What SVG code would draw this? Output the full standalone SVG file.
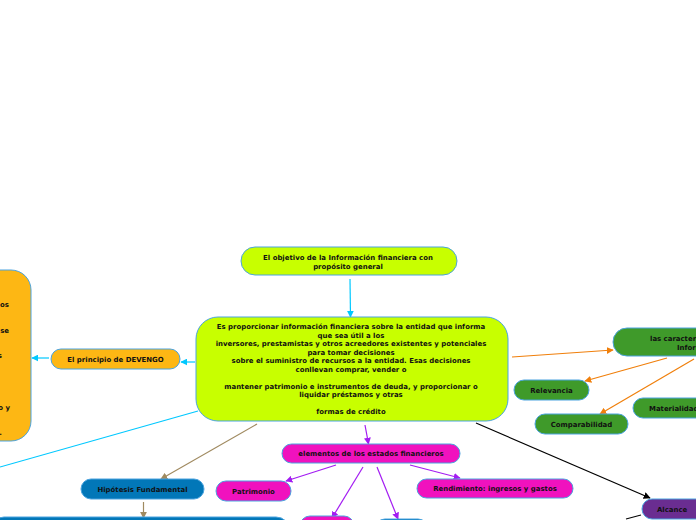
<svg xmlns="http://www.w3.org/2000/svg" width="696" height="520" viewBox="0 0 696 520">
<defs>
<style>
.n{stroke:#4aa3df;stroke-width:1}
.t{font-family:"DejaVu Sans",Verdana,sans-serif;font-weight:bold;font-size:6.95px;fill:#111;text-anchor:middle}
.ts{text-anchor:start}
.te{text-anchor:end}
.lime{fill:#c8ff00}
.org{fill:#fdb714}
.grn{fill:#3f9a2a}
.pnk{fill:#f012be}
.blu{fill:#0277b8}
.pur{fill:#6a2d91}
.c{fill:none;stroke-width:1.2}
</style>
<marker id="aCy" viewBox="0 0 10 10" refX="9" refY="5" markerWidth="7" markerHeight="7" orient="auto" markerUnits="userSpaceOnUse"><path d="M0,0L10,5L0,10z" fill="#00c8ff"/></marker>
<marker id="aOr" viewBox="0 0 10 10" refX="9" refY="5" markerWidth="7" markerHeight="7" orient="auto" markerUnits="userSpaceOnUse"><path d="M0,0L10,5L0,10z" fill="#f07f0b"/></marker>
<marker id="aBr" viewBox="0 0 10 10" refX="9" refY="5" markerWidth="7" markerHeight="7" orient="auto" markerUnits="userSpaceOnUse"><path d="M0,0L10,5L0,10z" fill="#a08a60"/></marker>
<marker id="aPu" viewBox="0 0 10 10" refX="9" refY="5" markerWidth="7" markerHeight="7" orient="auto" markerUnits="userSpaceOnUse"><path d="M0,0L10,5L0,10z" fill="#a31cf2"/></marker>
<marker id="aBk" viewBox="0 0 10 10" refX="9" refY="5" markerWidth="7" markerHeight="7" orient="auto" markerUnits="userSpaceOnUse"><path d="M0,0L10,5L0,10z" fill="#000"/></marker>
</defs>
<rect width="696" height="520" fill="#fff"/>
<g id="connectors">
<line class="c" x1="350" y1="279" x2="350.5" y2="317" stroke="#00c8ff" marker-end="url(#aCy)"/>
<line class="c" x1="195" y1="362" x2="181" y2="362" stroke="#00c8ff" marker-end="url(#aCy)"/>
<line class="c" x1="49" y1="358" x2="32" y2="358" stroke="#00c8ff" marker-end="url(#aCy)"/>
<line class="c" x1="198" y1="411" x2="0" y2="467" stroke="#00c8ff"/>
<line class="c" x1="512" y1="357" x2="613" y2="350" stroke="#f07f0b" marker-end="url(#aOr)"/>
<line class="c" x1="667" y1="358" x2="585" y2="381" stroke="#f07f0b" marker-end="url(#aOr)"/>
<line class="c" x1="694" y1="359" x2="600" y2="414" stroke="#f07f0b" marker-end="url(#aOr)"/>
<line class="c" x1="257" y1="424" x2="161" y2="479" stroke="#a08a60" marker-end="url(#aBr)"/>
<line class="c" x1="143.5" y1="502" x2="143.5" y2="518" stroke="#a08a60" marker-end="url(#aBr)"/>
<line class="c" x1="365" y1="425" x2="368.5" y2="444" stroke="#a31cf2" marker-end="url(#aPu)"/>
<line class="c" x1="336" y1="465" x2="286" y2="481" stroke="#a31cf2" marker-end="url(#aPu)"/>
<line class="c" x1="410" y1="465" x2="460" y2="478" stroke="#a31cf2" marker-end="url(#aPu)"/>
<line class="c" x1="363" y1="467" x2="332" y2="518" stroke="#a31cf2" marker-end="url(#aPu)"/>
<line class="c" x1="377" y1="467" x2="398" y2="519" stroke="#a31cf2" marker-end="url(#aPu)"/>
<line class="c" x1="476" y1="423" x2="650" y2="498" stroke="#000" marker-end="url(#aBk)"/>
<line class="c" x1="626" y1="519" x2="641" y2="515" stroke="#000"/>
</g>
<g id="objetivo">
<rect class="n lime" x="241" y="247" width="216" height="28" rx="14"/>
<text class="t" x="348" y="260">El objetivo de la Información financiera con</text>
<text class="t" x="348" y="268.5">propósito general</text>
</g>
<g id="principal">
<rect class="n lime" x="196" y="317" width="312" height="104" rx="22"/>
<text class="t" x="351" y="329">Es proporcionar información financiera sobre la entidad que informa</text>
<text class="t" x="351" y="337.5">que sea útil a los</text>
<text class="t" x="351" y="346">inversores, prestamistas y otros acreedores existentes y potenciales</text>
<text class="t" x="351" y="354.5">para tomar decisiones</text>
<text class="t" x="351" y="363">sobre el suministro de recursos a la entidad. Esas decisiones</text>
<text class="t" x="351" y="371.5">conllevan comprar, vender o</text>
<text class="t" x="351" y="388.5">mantener patrimonio e instrumentos de deuda, y proporcionar o</text>
<text class="t" x="351" y="397">liquidar préstamos y otras</text>
<text class="t" x="351" y="414">formas de crédito</text>
</g>
<g id="devengo">
<rect class="n org" x="51" y="349" width="129" height="20" rx="10"/>
<text class="t" x="115.5" y="361.5">El principio de DEVENGO</text>
</g>
<g id="devengo-detalle">
<rect class="n org" x="-200" y="270" width="231" height="171" rx="20"/>
<text class="t te" x="9" y="307">os</text>
<text class="t te" x="9" y="333">se</text>
<text class="t te" x="2" y="358">s</text>
<text class="t te" x="10" y="410">o y</text>
<text class="t te" x="2" y="435">.</text>
</g>
<g id="caracteristicas">
<rect class="n grn" x="613" y="328" width="160" height="28" rx="14"/>
<text class="t ts" x="650" y="341">las características</text>
<text class="t ts" x="677" y="349.5">Información</text>
</g>
<g id="relevancia">
<rect class="n grn" x="514" y="380" width="75" height="20" rx="10"/>
<text class="t" x="551.5" y="392.5">Relevancia</text>
</g>
<g id="comparabilidad">
<rect class="n grn" x="535" y="414" width="93" height="20" rx="10"/>
<text class="t" x="581.5" y="426.5">Comparabilidad</text>
</g>
<g id="materialidad">
<rect class="n grn" x="633" y="398" width="90" height="20" rx="10"/>
<text class="t ts" x="649" y="410.5">Materialidad</text>
</g>
<g id="alcance">
<rect class="n pur" x="642" y="499" width="80" height="20" rx="10"/>
<text class="t ts" x="657" y="511.5">Alcance</text>
</g>
<g id="elementos">
<rect class="n pnk" x="282" y="444" width="178" height="19" rx="9.5"/>
<text class="t" x="371" y="456">elementos de los estados financieros</text>
</g>
<g id="patrimonio">
<rect class="n pnk" x="216" y="481" width="75" height="20" rx="10"/>
<text class="t" x="253.5" y="493.5">Patrimonio</text>
</g>
<g id="rendimiento">
<rect class="n pnk" x="417" y="479" width="156" height="19" rx="9.5"/>
<text class="t" x="495" y="491">Rendimiento: ingresos y gastos</text>
</g>
<g id="elemento-bajo-1">
<rect class="n pnk" x="300" y="516" width="54" height="20" rx="10"/>
</g>
<g id="elemento-bajo-2">
<rect class="n blu" x="375" y="519" width="53" height="20" rx="10"/>
</g>
<g id="hipotesis">
<rect class="n blu" x="81" y="479" width="123" height="20" rx="10"/>
<text class="t" x="142.5" y="491.5">Hipótesis Fundamental</text>
</g>
<g id="hipotesis-detalle">
<rect class="n blu" x="-10" y="517" width="300" height="40" rx="14"/>
</g>
</svg>
